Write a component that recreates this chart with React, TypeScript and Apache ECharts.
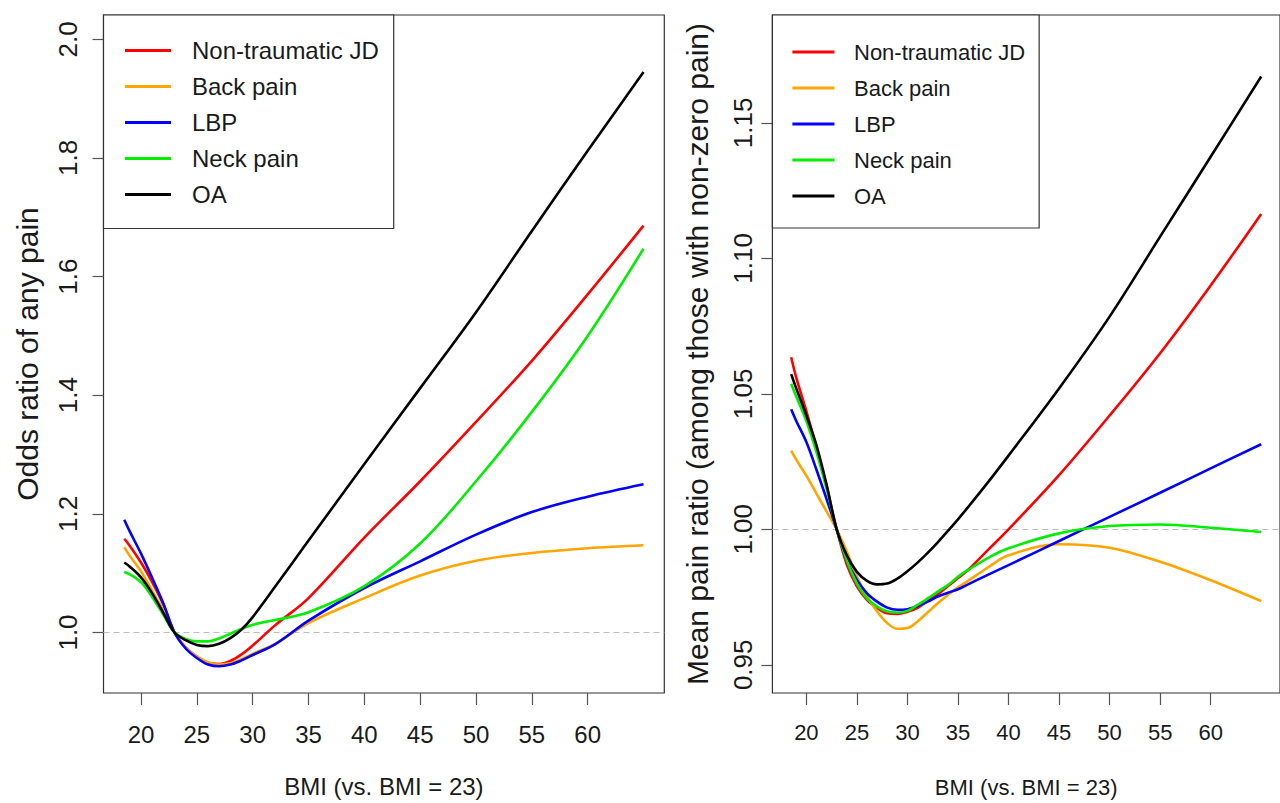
import React, { useEffect, useRef } from "react";
import * as echarts from "echarts";

const NAMES = ["Non-traumatic JD", "Back pain", "LBP", "Neck pain", "OA"];
const COLORS = ["#ff0000", "#ffa500", "#0000ff", "#00ee00", "#000000"];

const X_TICKS = [20, 25, 30, 35, 40, 45, 50, 55, 60];
const L_Y_TICKS = [1.0, 1.2, 1.4, 1.6, 1.8, 2.0];
const R_Y_TICKS = [0.95, 1.0, 1.05, 1.1, 1.15];

// Left panel: odds ratio of any pain
const L_BMI = [18.5, 19, 20, 21, 22, 23, 24, 25, 26, 27, 28, 29, 30, 32, 35, 40, 45, 50, 55, 60, 65];
const L_RED = [1.158, 1.146, 1.118, 1.085, 1.047, 1.0, 0.975, 0.959, 0.949, 0.947, 0.952, 0.963, 0.978, 1.012, 1.058, 1.16, 1.255, 1.355, 1.458, 1.57, 1.686];
const L_ORANGE = [1.144, 1.129, 1.103, 1.07, 1.037, 1.0, 0.975, 0.96, 0.95, 0.946, 0.948, 0.955, 0.964, 0.981, 1.016, 1.058, 1.096, 1.121, 1.134, 1.142, 1.147];
const L_BLUE = [1.19, 1.17, 1.133, 1.092, 1.049, 1.0, 0.973, 0.957, 0.946, 0.943, 0.946, 0.953, 0.962, 0.98, 1.02, 1.075, 1.12, 1.165, 1.203, 1.229, 1.25];
const L_GREEN = [1.102, 1.098, 1.085, 1.06, 1.03, 1.0, 0.989, 0.985, 0.985, 0.99, 0.998, 1.006, 1.013, 1.021, 1.034, 1.078, 1.15, 1.255, 1.372, 1.5, 1.647];
const L_BLACK = [1.118, 1.111, 1.093, 1.066, 1.033, 1.0, 0.987, 0.979, 0.977, 0.981, 0.9905, 1.005, 1.026, 1.077, 1.155, 1.284, 1.412, 1.54, 1.677, 1.812, 1.945];

// Right panel: mean pain ratio
const R_BMI = [18.5, 19, 20, 21, 22, 23, 24, 25, 26, 27, 28, 29, 30, 31, 32, 33, 34, 35, 36, 38, 40, 45, 50, 55, 60, 65];
const R_RED = [1.0635, 1.056, 1.0436, 1.03, 1.016, 1.0, 0.987, 0.979, 0.974, 0.971, 0.969, 0.9688, 0.9696, 0.971, 0.9735, 0.976, 0.979, 0.982, 0.985, 0.9925, 1.0, 1.02, 1.042, 1.065, 1.09, 1.1164];
const R_ORANGE = [1.029, 1.0257, 1.0198, 1.0132, 1.0066, 1.0, 0.9918, 0.9826, 0.9753, 0.9697, 0.9654, 0.9633, 0.9636, 0.966, 0.9693, 0.9727, 0.9758, 0.9786, 0.981, 0.986, 0.9904, 0.9945, 0.9932, 0.988, 0.9812, 0.9735];
const R_BLUE = [1.0443, 1.04, 1.0322, 1.022, 1.0112, 1.0, 0.9886, 0.9813, 0.9764, 0.9733, 0.9711, 0.9703, 0.9705, 0.9717, 0.9733, 0.9752, 0.9766, 0.9779, 0.9797, 0.9833, 0.9868, 0.9957, 1.0046, 1.0135, 1.0225, 1.0314];
const R_GREEN = [1.0537, 1.049, 1.04, 1.0285, 1.015, 1.0, 0.9886, 0.98, 0.9745, 0.9715, 0.9697, 0.9693, 0.9699, 0.9721, 0.9745, 0.977, 0.9794, 0.9825, 0.985, 0.9895, 0.993, 0.9985, 1.0012, 1.0018, 1.0006, 0.999];
const R_BLACK = [1.0573, 1.052, 1.042, 1.031, 1.0165, 1.0, 0.9904, 0.9843, 0.981, 0.9797, 0.98, 0.9818, 0.9845, 0.9877, 0.9913, 0.9952, 0.9994, 1.0037, 1.0082, 1.0175, 1.0272, 1.052, 1.0785, 1.108, 1.1375, 1.1671];

const L_SERIES = [L_RED, L_ORANGE, L_BLUE, L_GREEN, L_BLACK];
const R_SERIES = [R_RED, R_ORANGE, R_BLUE, R_GREEN, R_BLACK];

const FONT = '"Liberation Sans", Arial, Helvetica, sans-serif';
const TXT = "#1a1a1a";

function makeX(gridIndex: number, fontSize: number, margin: number, nameGap: number) {
  return {
    type: "value",
    gridIndex,
    min: 16.64,
    max: 66.86,
    name: "BMI (vs. BMI = 23)",
    nameLocation: "middle",
    nameGap,
    nameTextStyle: { fontSize, color: TXT, fontFamily: FONT },
    axisLine: { show: false },
    axisTick: {
      show: true,
      inside: false,
      length: 12,
      customValues: X_TICKS,
      lineStyle: { color: "#555", width: 1.2 },
    },
    axisLabel: {
      customValues: X_TICKS,
      fontSize,
      margin,
      color: TXT,
      fontFamily: FONT,
    },
    splitLine: { show: false },
  };
}

function makeY(
  gridIndex: number,
  min: number,
  max: number,
  ticks: number[],
  digits: number,
  name: string,
  nameGap: number,
  labelMargin: number
) {
  return {
    type: "value",
    gridIndex,
    min,
    max,
    name,
    nameLocation: "middle",
    nameRotate: 90,
    nameGap,
    nameTextStyle: { fontSize: 30, color: TXT, fontFamily: FONT },
    axisLine: { show: false },
    axisTick: {
      show: true,
      inside: false,
      length: 11,
      customValues: ticks,
      lineStyle: { color: "#555", width: 1.2 },
    },
    axisLabel: {
      customValues: ticks,
      rotate: 90,
      fontSize: 26,
      margin: labelMargin,
      color: TXT,
      fontFamily: FONT,
      formatter: (v: number) => v.toFixed(digits),
    },
    splitLine: { show: false },
  };
}

function makeSeries(xs: number[], ys: number[][], idx: number) {
  return ys.map((vals, i) => ({
    type: "line",
    name: NAMES[i],
    xAxisIndex: idx,
    yAxisIndex: idx,
    data: xs.map((x, j) => [x, vals[j]]),
    smooth: 0.35,
    showSymbol: false,
    symbol: "none",
    lineStyle: { color: COLORS[i], width: 2.6 },
    itemStyle: { color: COLORS[i] },
    z: 3 + i,
    markLine:
      i === 0
        ? {
            silent: true,
            symbol: ["none", "none"],
            label: { show: false },
            lineStyle: { type: [6, 4], color: "#bdbdbd", width: 1.2 },
            data: [{ yAxis: 1 }],
            z: 1,
          }
        : undefined,
  }));
}

function makeLegend(left: number, padding: number[], itemWidth: number, fontSize: number, textPad: number) {
  return {
    orient: "vertical",
    left,
    top: 15,
    padding,
    itemGap: 0,
    itemWidth,
    itemHeight: 3,
    icon: "rect",
    borderColor: "#333",
    borderWidth: 1.2,
    backgroundColor: "#ffffff",
    selectedMode: false,
    textStyle: {
      fontSize,
      lineHeight: 36,
      padding: [0, 0, 0, textPad],
      color: TXT,
      fontFamily: FONT,
    },
    data: NAMES,
  };
}

export default function App() {
  const ref = useRef<HTMLDivElement>(null);

  useEffect(() => {
    if (!ref.current) return;
    const chart = echarts.init(ref.current, undefined, { renderer: "svg" });
    chart.setOption({
      animation: false,
      backgroundColor: "#ffffff",
      textStyle: { fontFamily: FONT },
      grid: [
        { left: 103.5, top: 15, width: 560.8, height: 681, show: true, borderColor: "#333", borderWidth: 1.2 },
        { left: 772.4, top: 15, width: 517.3, height: 682, show: true, borderColor: "#333", borderWidth: 1.2 },
      ],
      legend: [
        makeLegend(103.5, [17.5, 15, 16, 21.5], 46, 24, 16),
        makeLegend(772.4, [19, 14, 14, 20], 42, 22, 14.6),
      ],
      xAxis: [makeX(0, 24, 29, 81), makeX(1, 22, 28, 83)],
      yAxis: [
        makeY(0, 0.898, 2.041, L_Y_TICKS, 1, "Odds ratio of any pain", 61, 23),
        makeY(1, 0.9396, 1.1898, R_Y_TICKS, 2, "Mean pain ratio (among those with non-zero pain)", 60, 16),
      ],
      series: [...makeSeries(L_BMI, L_SERIES, 0), ...makeSeries(R_BMI, R_SERIES, 1)],
    });
    return () => chart.dispose();
  }, []);

  return (
    <div
      ref={ref}
      style={{ position: "fixed", left: 0, top: 0, width: 1280, height: 803, background: "#fff" }}
    />
  );
}
